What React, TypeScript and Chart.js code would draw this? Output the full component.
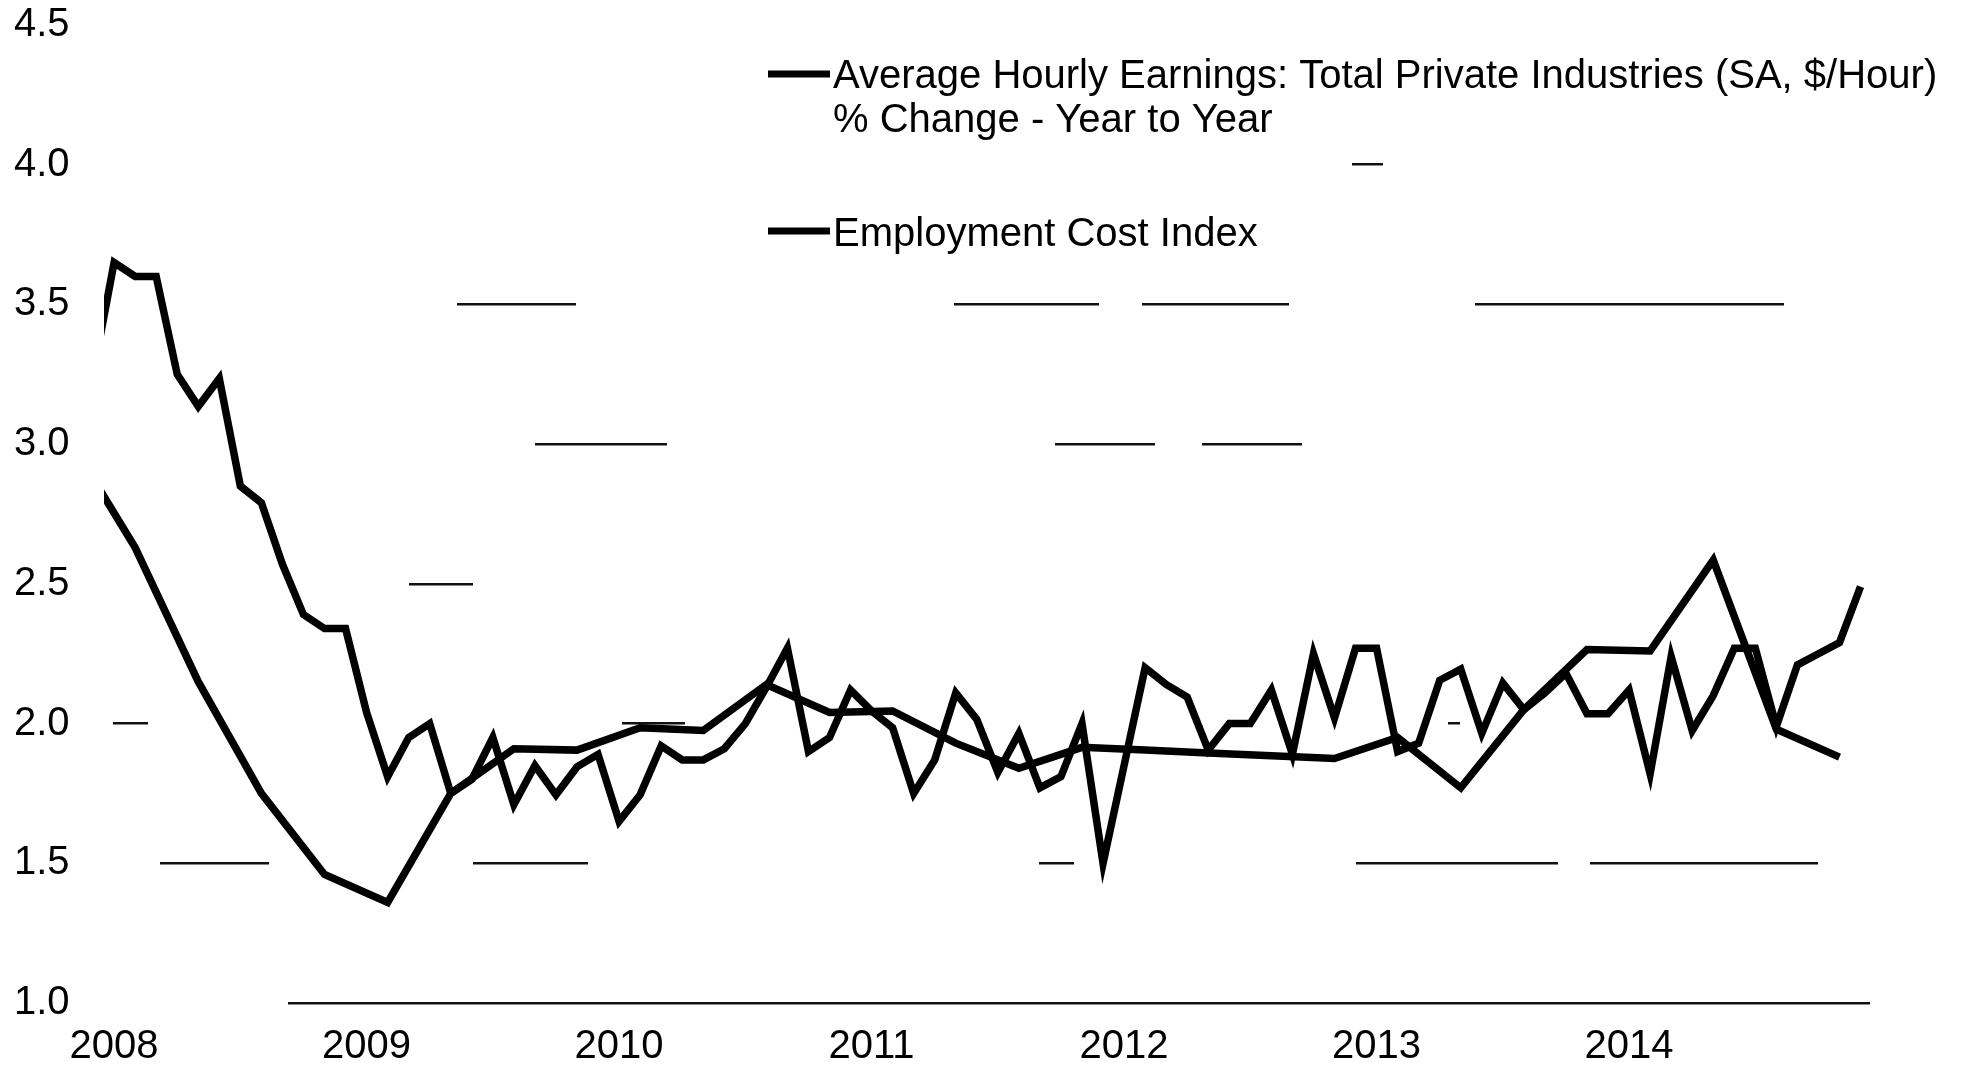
import React, { useEffect, useRef } from 'react';
import { Chart, registerables } from 'chart.js';

Chart.register(...registerables);

// Months counted from January 2008 (0 = Jan 2008)
const AHE_START_MONTH = -1; // Dec 2007
const aheValues = [
  3.25,
  3.65, 3.6, 3.6, 3.25, 3.135, 3.235, 2.85, 2.79, 2.57, 2.39, 2.34, 2.34,
  2.04, 1.81, 1.95, 2.0, 1.75, 1.8, 1.95, 1.71, 1.85, 1.745, 1.845, 1.89,
  1.65, 1.745, 1.92, 1.87, 1.87, 1.91, 2.0, 2.13, 2.27, 1.9, 1.95, 2.12,
  2.045, 1.985, 1.75, 1.87, 2.11, 2.015, 1.825, 1.965, 1.77, 1.81, 2.0, 1.5,
  1.85, 2.2, 2.14, 2.095, 1.905, 2.0, 2.0, 2.12, 1.89, 2.25, 2.02, 2.27,
  2.27, 1.9, 1.93, 2.155, 2.195, 1.965, 2.145, 2.05, 2.11, 2.18, 2.035, 2.035,
  2.12, 1.82, 2.24, 1.975, 2.1, 2.27, 2.27, 1.99, 2.21, 2.25, 2.29, 2.49,
];

// Quarterly, plotted at the middle month of each quarter (Nov 2007, Feb 2008, ...)
const ECI_START_MONTH = -2;
const ECI_STEP_MONTHS = 3;
const eciValues = [
  3.0,
  2.63, 2.15, 1.75, 1.46,
  1.36, 1.75, 1.91, 1.905,
  1.985, 1.975, 2.14, 2.04,
  2.045, 1.93, 1.84, 1.915,
  1.905, 1.895, 1.885, 1.875,
  1.95, 1.77, 2.05, 2.265,
  2.26, 2.585, 1.98, 1.88,
];

const yearLabels = ['2008', '2009', '2010', '2011', '2012', '2013', '2014'];
const yMin = 1.0;
const yMax = 4.5;
const yStep = 0.5;

const aheLegend = [
  'Average Hourly Earnings: Total Private Industries (SA, $/Hour)',
  '% Change - Year to Year',
];
const eciLegend = ['Employment Cost Index'];

// ---- styling / layout (not data) ----
const X_MIN = -0.48;
const X_MAX = 83.45;
const FONT_FAMILY = '"Liberation Sans", Arial, Helvetica, sans-serif';
const LINE_WIDTH = 7.5;
// Broken, faded grid lines of the scanned original (dash patterns per grid line, bottom to top)
const GRID_DASHES: number[][] = [
  [0, 184, 4000],
  [0, 56, 109, 204, 115, 451, 35, 282, 202, 32, 228, 4000],
  [0, 9, 35, 474, 63, 763, 12, 4000],
  [0, 305, 64, 4000],
  [0, 431, 132, 388, 100, 47, 100, 4000],
  [0, 353, 119, 378, 145, 43, 147, 186, 309, 4000],
  [0, 1248, 31, 4000],
  [0, 4000],
];

const legendPlugin = {
  id: 'manualLegend',
  afterDraw(chart: any) {
    const ctx = chart.ctx as CanvasRenderingContext2D;
    ctx.save();
    ctx.font = `40px ${FONT_FAMILY}`;
    ctx.fillStyle = '#000';
    ctx.strokeStyle = '#000';
    ctx.textAlign = 'left';
    ctx.textBaseline = 'alphabetic';
    const items = [
      { lines: aheLegend, markerY: 74, baseline: 88 },
      { lines: eciLegend, markerY: 231, baseline: 246 },
    ];
    for (const item of items) {
      ctx.lineWidth = 7;
      ctx.beginPath();
      ctx.moveTo(768, item.markerY);
      ctx.lineTo(830, item.markerY);
      ctx.stroke();
      item.lines.forEach((line, i) => {
        ctx.fillText(line, 833, item.baseline + i * 44);
      });
    }
    ctx.restore();
  },
};

export default function App() {
  const ref = useRef<HTMLCanvasElement>(null);

  useEffect(() => {
    if (!ref.current) return;
    Chart.defaults.font.family = FONT_FAMILY;
    const aheData = aheValues.map((v, i) => ({ x: AHE_START_MONTH + i, y: v }));
    const eciData = eciValues.map((v, i) => ({ x: ECI_START_MONTH + i * ECI_STEP_MONTHS, y: v }));
    const tickFont = { size: 40, family: FONT_FAMILY };

    const chart = new Chart(ref.current, {
      type: 'line',
      data: {
        datasets: [
          {
            label: aheLegend.join(' '),
            data: aheData,
            borderColor: '#000',
            backgroundColor: '#000',
            borderWidth: LINE_WIDTH,
            pointRadius: 0,
            tension: 0,
            borderJoinStyle: 'miter',
          },
          {
            label: eciLegend[0],
            data: eciData,
            borderColor: '#000',
            backgroundColor: '#000',
            borderWidth: LINE_WIDTH,
            pointRadius: 0,
            tension: 0,
            borderJoinStyle: 'miter',
          },
        ],
      },
      options: {
        responsive: false,
        animation: false,
        devicePixelRatio: 1,
        layout: { padding: { left: 14, right: 93, top: 25, bottom: 0 } },
        plugins: {
          legend: { display: false },
          tooltip: { enabled: false },
        },
        scales: {
          x: {
            type: 'linear',
            min: X_MIN,
            max: X_MAX,
            grid: { display: false, drawTicks: false },
            border: { display: false },
            ticks: {
              padding: 20,
              color: '#000',
              font: tickFont,
              maxRotation: 0,
              autoSkip: false,
              callback: (v: any) => yearLabels[Math.round(Number(v) / 12)] ?? '',
            },
            afterBuildTicks: (axis: any) => {
              axis.ticks = yearLabels.map((_, i) => ({ value: i * 12 }));
            },
            afterFit: (axis: any) => {
              axis.height = 68;
            },
          },
          y: {
            type: 'linear',
            min: yMin,
            max: yMax,
            ticks: {
              stepSize: yStep,
              padding: 0,
              crossAlign: 'far',
              color: '#000',
              font: tickFont,
              callback: (v: any) => Number(v).toFixed(1),
            },
            grid: {
              drawTicks: false,
              lineWidth: 2.5,
              color: '#111',
            },
            border: {
              display: false,
              dash: (c: any) => GRID_DASHES[c.index] || [0, 4000],
              dashOffset: 0,
            },
            afterFit: (axis: any) => {
              axis.width = 90;
            },
          },
        },
      },
      plugins: [legendPlugin],
    } as any);

    return () => chart.destroy();
  }, []);

  return (
    <canvas
      ref={ref}
      width={1963}
      height={1071}
      style={{
        position: 'fixed',
        left: 0,
        top: 0,
        width: '1963px',
        height: '1071px',
        background: '#fff',
      }}
    />
  );
}
